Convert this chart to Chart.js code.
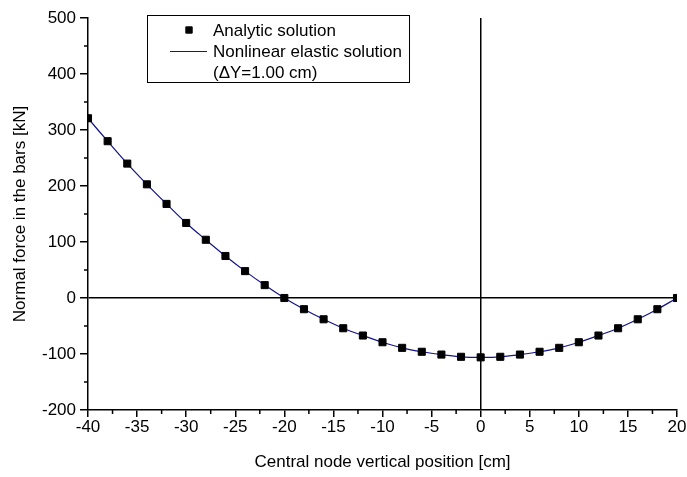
<!DOCTYPE html>
<html>
<head>
<meta charset="utf-8">
<title>Normal force in the bars</title>
<script src="https://cdn.jsdelivr.net/npm/chart.js@4.4.0/dist/chart.umd.min.js"></script>
<style>
    html, body { margin: 0; padding: 0; background: #fff; }
    #wrap { width: 687px; height: 477px; }
</style>
</head>
<body>
<div id="wrap"><canvas id="forceChart" width="687" height="477"></canvas></div>
<script>
// central node vertical position [cm]
const positions = [-40, -38, -36, -34, -32, -30, -28, -26, -24, -22, -20, -18, -16, -14, -12, -10,
    -8, -6, -4, -2, 0, 2, 4, 6, 8, 10, 12, 14, 16, 18, 20];

// analytic solution [kN]
const analyticForce = [321, 280, 240, 203, 168, 134, 104, 75, 48, 23, 0, -20, -38, -54, -67, -79,
    -89, -96, -101, -105, -106, -105, -101, -96, -89, -79, -67, -54, -38, -20, 0];

// nonlinear elastic solution, read at the same positions [kN]
const elasticForce = [321, 280, 240, 203, 168, 134, 104, 75, 48, 23, 0, -20, -38, -54, -67, -79,
    -89, -96, -101, -105, -106, -105, -101, -96, -89, -79, -67, -54, -38, -20, 0];

const legendLabels = ['Analytic solution', 'Nonlinear elastic solution', '(\u0394Y=1.00 cm)'];
const xTitle = 'Central node vertical position [cm]';
const yTitle = 'Normal force in the bars [kN]';

(() => {
    const FONT = 'Arial, "Liberation Sans", sans-serif';
    const LINE_COLOR = '#14148c';

    const toPoints = values => positions.map((x, i) => ({ x, y: values[i] }));

    // minor ticks between the labelled ones
    const minorTicks = {
        id: 'minorTicks',
        afterDraw(chart) {
            const { ctx, scales: { x, y } } = chart;
            ctx.save();
            ctx.strokeStyle = '#000';
            ctx.lineWidth = 1.5;
            ctx.beginPath();
            for (let v = x.min + 2.5; v < x.max; v += 5) {
                const px = x.getPixelForValue(v);
                ctx.moveTo(px, x.top);
                ctx.lineTo(px, x.top + 4);
            }
            for (let v = y.min + 50; v < y.max; v += 100) {
                const py = y.getPixelForValue(v);
                ctx.moveTo(y.right, py);
                ctx.lineTo(y.right - 4, py);
            }
            ctx.stroke();
            ctx.restore();
        }
    };

    // boxed legend in the upper left
    const boxLegend = {
        id: 'boxLegend',
        afterDraw(chart) {
            const ctx = chart.ctx;
            const left = 147, top = 15, height = 67, rowH = 21, textX = 213;
            ctx.save();
            ctx.font = `17px ${FONT}`;
            const textW = Math.max(...legendLabels.map(t => ctx.measureText(t).width));
            const width = textX + textW + 7 - left;
            ctx.fillStyle = '#fff';
            ctx.fillRect(left, top, width, height);
            ctx.strokeStyle = '#000';
            ctx.lineWidth = 1;
            ctx.strokeRect(left + 0.5, top + 0.5, width, height);

            const rowY = i => top + 15 + i * rowH;
            ctx.fillStyle = '#000';
            Chart.helpers.drawPoint(ctx, { pointStyle: 'rect', radius: 4.5, borderWidth: 1 }, 189, rowY(0));
            ctx.strokeStyle = LINE_COLOR;
            ctx.beginPath();
            ctx.moveTo(170, rowY(1) + 0.5);
            ctx.lineTo(207, rowY(1) + 0.5);
            ctx.stroke();

            ctx.fillStyle = '#000';
            ctx.textBaseline = 'middle';
            legendLabels.forEach((t, i) => ctx.fillText(t, textX, rowY(i) + 1));
            ctx.restore();
        }
    };

    const zeroLine = c => (c.tick && c.tick.value === 0 ? '#000' : 'rgba(0,0,0,0)');

    new Chart(document.getElementById('forceChart'), {
        type: 'scatter',
        data: {
            datasets: [{
                label: legendLabels[0],
                data: toPoints(analyticForce),
                pointStyle: 'rect',
                pointRadius: 5,
                pointBackgroundColor: '#000',
                pointBorderColor: '#000',
                pointBorderWidth: 1,
                showLine: false,
                order: 0
            }, {
                label: legendLabels[1],
                data: toPoints(elasticForce),
                showLine: true,
                borderColor: LINE_COLOR,
                borderWidth: 1.2,
                tension: 0.35,
                pointRadius: 0,
                order: 1
            }]
        },
        options: {
            responsive: false,
            animation: false,
            devicePixelRatio: 1,
            layout: { padding: { top: 18, right: 10, left: 0, bottom: 0 } },
            plugins: { legend: { display: false }, tooltip: { enabled: false } },
            scales: {
                x: {
                    type: 'linear',
                    min: -40,
                    max: 20,
                    afterFit: s => { s.height = 67; },
                    ticks: { stepSize: 5, color: '#000', padding: 0, maxRotation: 0, autoSkip: false,
                        font: { family: FONT, size: 17 } },
                    grid: { color: zeroLine, lineWidth: 1.5, tickColor: '#000', tickLength: 7 },
                    border: { color: '#000', width: 1.5 },
                    title: { display: true, text: xTitle, color: '#000',
                        font: { family: FONT, size: 17 }, padding: { top: 0, bottom: 4 } }
                },
                y: {
                    type: 'linear',
                    min: -200,
                    max: 500,
                    afterFit: s => { s.width = 88; },
                    ticks: { stepSize: 100, color: '#000', padding: 4,
                        font: { family: FONT, size: 17 } },
                    grid: { color: zeroLine, lineWidth: 1.5, tickColor: '#000', tickLength: 8 },
                    border: { color: '#000', width: 1.5 },
                    title: { display: true, text: yTitle, color: '#000',
                        font: { family: FONT, size: 17 }, padding: { top: 10, bottom: 0 } }
                }
            }
        },
        plugins: [minorTicks, boxLegend]
    });
})();
</script>
</body>
</html>
